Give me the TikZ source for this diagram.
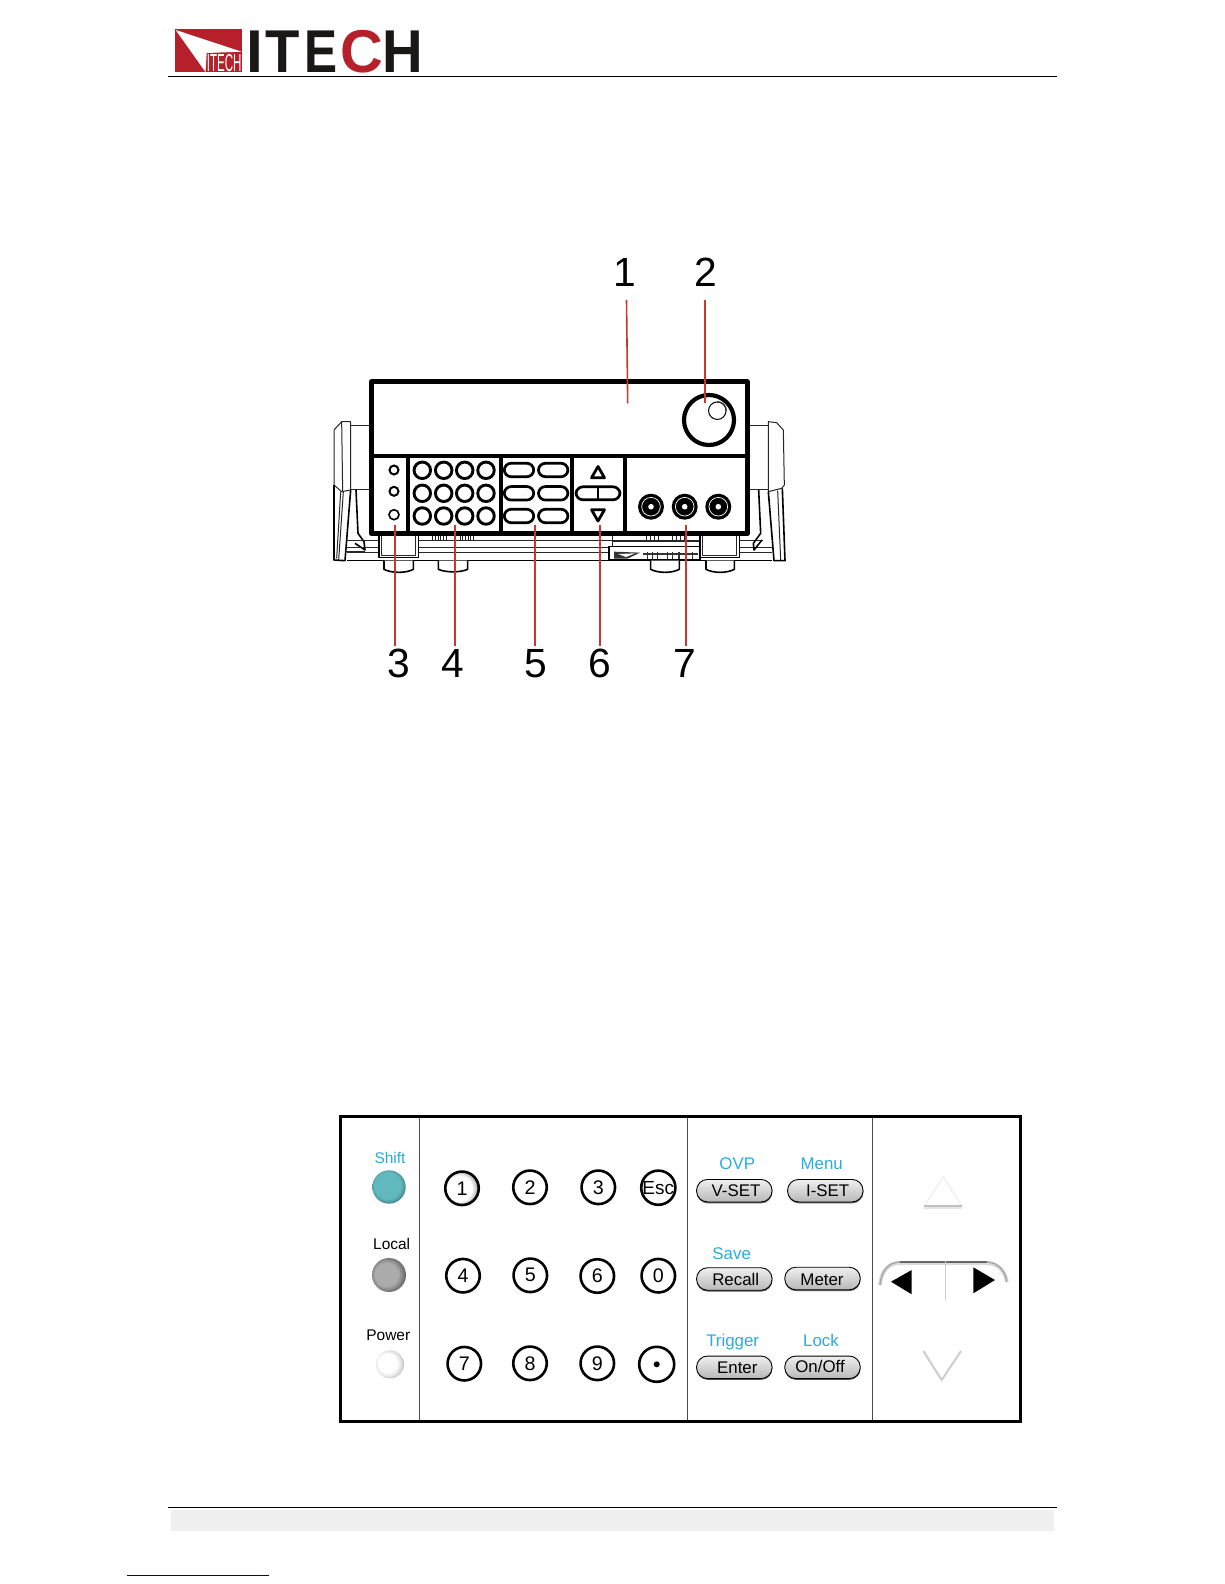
\documentclass[tikz,border=0pt]{standalone}
\usepackage{fontspec}
\setmainfont{Liberation Sans}
\usetikzlibrary{shadows}
\def\px{1.4226pt}
\newcommand{\fsz}[1]{\fontsize{#1}{#1}\selectfont}
\definecolor{logored}{HTML}{B5202A}
\definecolor{logoblack}{HTML}{1A1717}
\definecolor{callred}{HTML}{C8382E}
\definecolor{skyb}{HTML}{29ABE2}
\definecolor{foot}{HTML}{F0F0F0}
\pgfdeclareradialshading{shiftball}{\pgfpoint{-4bp}{4bp}}{rgb(0bp)=(0.38,0.72,0.74);rgb(20bp)=(0.38,0.72,0.74);rgb(30bp)=(0.22,0.45,0.47);rgb(50bp)=(0.22,0.45,0.47)}
\pgfdeclareradialshading{localball}{\pgfpoint{-6bp}{1.5bp}}{rgb(0bp)=(0.67,0.67,0.67);rgb(17bp)=(0.67,0.67,0.67);rgb(30bp)=(0.33,0.33,0.33);rgb(50bp)=(0.33,0.33,0.33)}
\pgfdeclareradialshading{powerball}{\pgfpoint{-7bp}{3bp}}{rgb(0bp)=(1,1,1);rgb(17bp)=(1,1,1);rgb(25bp)=(0.85,0.85,0.85);rgb(31bp)=(0.55,0.55,0.55);rgb(50bp)=(0.55,0.55,0.55)}
\pgfdeclareradialshading{oneball}{\pgfpoint{-7bp}{0bp}}{rgb(0bp)=(1,1,1);rgb(19bp)=(1,1,1);rgb(31bp)=(0.5,0.5,0.5);rgb(50bp)=(0.5,0.5,0.5)}
\tikzset{
  x=0.05cm,y=-0.05cm,
  every node/.style={inner sep=0pt,outer sep=0pt},
  biglet/.style={anchor=base,font=\bfseries\fsz{86}},
  callout/.style={font=\fsz{58}},
  redline/.style={draw=callred,line width=1.6*\px},
  box/.style={draw=black,line width=5*\px,line join=round},
  divider/.style={draw=black,line width=4.2*\px},
  sketch/.style={draw=black!85,line width=1*\px,line join=round},
  sketchb/.style={draw=black,line width=1.6*\px,line join=round},
  led/.style={circle,draw=black,line width=2*\px,fill=white},
  keyr/.style={circle,draw=black,line width=2.9*\px,minimum size=16.5*\px,fill=white},
  keyp/.style={rounded corners=7*\px,draw=black,line width=2.7*\px,fill=white,minimum width=29.5*\px,minimum height=13.5*\px},
  pname/.style={font=\fsz{22}},
  skyname/.style={font=\fsz{24},text=skyb},
  numkey/.style={circle,draw=black,line width=2.6*\px,minimum size=33.5*\px,font=\fsz{28}},
  softkey/.style={rounded corners=11*\px,draw=black,line width=0.9*\px,top color=white!94!black,bottom color=black!28,
    general shadow={shadow xshift=0.2*\px,shadow yshift=-1.3*\px,fill=black!65},minimum width=75.5*\px,minimum height=22.5*\px},
  keytext/.style={font=\fsz{24}},
  panelline/.style={draw=black!70,line width=1*\px},
}
\begin{document}
\begin{tikzpicture}
\useasboundingbox (0,0) rectangle (1224,1584);
% ---------- header
\fill[logored] (175,29) rectangle (242.3,72.3);
\fill[white] (175.7,30) -- (241.7,51.7) -- (206.7,53) -- (205.5,72) -- cycle;
\node[text=white,xscale=0.47,font=\fsz{35}] (lt) at (224.2,63) {ITECH};
\node[biglet,text=logoblack] (li) at (254.5,72.3) {I};
\node[biglet,text=logoblack,xscale=0.93] (lt2) at (282.5,72.3) {T};
\node[biglet,text=logoblack,xscale=0.82] (le) at (321,72.3) {E};
\node[biglet,text=logored,xscale=0.98] (lc) at (361.5,72.3) {C};
\node[biglet,text=logoblack,xscale=0.93] (lh) at (402.5,72.3) {H};
\draw[black,line width=1*\px] (168,76.3) -- (1057,76.3);
% ---------- footer
\fill[foot] (171,1510) rectangle (1054,1531);
\draw[black,line width=1*\px] (168,1507) -- (1057,1507);
\draw[blue!50!black,line width=1*\px] (127,1575.5) -- (269,1575.5);
% ---------- instrument: handles and base, left part
\begin{scope}[shift={(320,370)},scale=1/3]
  \draw[sketch] (92,155) -- (65,155) -- (42,180) -- (42,345) -- (65,365) -- (92,360) -- cycle;
  \draw[sketch] (65,155) -- (68,365);
  \draw[sketch] (92,165) -- (150,165) (92,358) -- (150,358);
  \draw[sketchb] (42,345) -- (42,570) -- (75,572) -- (92,360);
  \draw[sketch] (62,365) -- (50,565) (70,365) -- (56,570);
  \draw[sketchb] (108,360) -- (114,490) -- (132,515) -- (135,540) -- (105,520);
  \draw[sketch] (80,510) -- (720,510);
  \draw[sketch] (80,532) -- (720,532);
  \draw[sketch] (80,548) -- (720,548);
  \draw[sketchb] (80,572) -- (720,572);
  \draw[sketch] (75,545) -- (135,545);
  \draw[sketchb,fill=white] (177,495) -- (177,562) -- (295,562) -- (295,495);
  \draw[sketch] (185,495) -- (185,555) -- (287,555) -- (287,495);
  \draw[sketchb,fill=white] (192,572) -- (192,598) .. controls (215,610) and (258,610) .. (280,598) -- (280,572);
  \draw[sketchb,fill=white] (355,572) -- (355,598) .. controls (378,608) and (420,608) .. (443,598) -- (443,572);
  \foreach \t in {338,346,354,362,370,378,420,428,436,444,452,460}
    \draw[sketch] (\t,498) -- (\t,512);
\end{scope}
% ---------- instrument: right part
\begin{scope}[shift={(550,370)},scale=1/3]
  \draw[sketch] (0,510) -- (640,510) (0,532) -- (665,532) (0,548) -- (665,548);
  \draw[sketchb] (0,572) -- (665,572);
  \draw[sketchb,fill=white] (177,530) rectangle (450,570);
  \draw[sketch] (188,498) -- (188,530) (188,515) -- (448,515);
  \fill[black!80] (192,545) -- (270,548) -- (232,566) -- (192,566) -- cycle;
  \fill[white] (205,552) -- (255,550) -- (228,561) -- cycle;
  \foreach \t in {290,305,320,350,365,385,405,425}
    \fill[black!80] (\t,545) rectangle (\t+5,566);
  \draw[black!80,line width=1.4*\px] (280,552) -- (445,552);
  \foreach \t in {288,300,312,324,366,378,390,402}
    \draw[sketch] (\t,498) -- (\t,512);
  \draw[sketchb,fill=white] (450,495) -- (450,562) -- (568,562) -- (568,495);
  \draw[sketch] (458,495) -- (458,555) -- (560,555) -- (560,495);
  \draw[sketchb,fill=white] (468,572) -- (468,598) .. controls (490,610) and (531,610) .. (553,598) -- (553,572);
  \draw[sketchb,fill=white] (302,572) -- (302,598) .. controls (325,610) and (365,610) .. (388,598) -- (388,572);
  \draw[sketch] (655,155) -- (680,158) -- (700,180) -- (703,345) -- (695,355) -- (655,365) -- cycle;
  \draw[sketch] (600,165) -- (655,165) (600,358) -- (655,358);
  \draw[sketch] (655,155) -- (655,365);
  \draw[sketchb] (655,365) -- (672,572) -- (705,572) -- (697,355);
  \draw[sketch] (683,362) -- (692,570);
  \draw[sketchb] (626,360) -- (632,490) -- (610,520) -- (612,540) -- (636,510);
\end{scope}
% ---------- instrument body
\draw[box,fill=white] (371.5,381.7) rectangle (747,533.8);
\draw[divider] (371.5,456.3) -- (747,456.3);
\draw[divider] (408.3,456.3) -- (408.3,533.8);
\draw[divider] (501.3,456.3) -- (501.3,533.8);
\draw[divider] (571.7,456.3) -- (571.7,533.8);
\draw[divider] (625,456.3) -- (625,533.8);
\node[led,minimum size=9*\px] (led1) at (394,470) {};
\node[led,minimum size=9*\px] (led2) at (394,491.3) {};
\node[led,minimum size=10*\px,line width=1.6*\px] (led3) at (394,514.7) {};
\foreach \cx/\n in {422.3/a,443.7/b,464.7/c,486/d}
  \foreach \cy/\m in {470.3/x,493.3/y,516/z}
    \node[keyr] (r\n\m) at (\cx,\cy) {};
\foreach \cy/\m in {470/x,493.3/y,516/z}{
  \node[keyp] (pa\m) at (519,\cy) {};
  \node[keyp] (pb\m) at (553.2,\cy) {};
}
% arrows on the front panel
\draw[black,line width=2.8*\px,line join=round,fill=white] (598,466.5) -- (604.5,477.8) -- (591.5,477.8) -- cycle;
\draw[black,line width=2.8*\px,line join=round,fill=white] (598,521) -- (604.5,509.7) -- (591.5,509.7) -- cycle;
\node[keyp,minimum width=44*\px,minimum height=13*\px] (navp) at (598,493.3) {};
\draw[black,line width=2.2*\px] (navp.north) -- (navp.south);
% knob
\node[circle,draw=black,line width=4.2*\px,minimum size=50*\px,fill=white] (knob) at (709,420) {};
\node[circle,draw=black,line width=1*\px,minimum size=17.5*\px] (knobin) at (717.3,410.7) {};
\draw[black!80,line width=1.3*\px] (726.3,410.7) arc (0:-90:9);
% jacks
\foreach \cx/\n in {651/a,684.7/b,718.3/c}{
  \fill[black] (\cx,506.7) circle (13);
  \draw[white,line width=0.7*\px] (\cx,506.7) circle (9.3);
  \node[circle,fill=white,minimum size=5.6*\px] (jack\n) at (\cx,506.7) {};
}
% ---------- callouts
\node[callout] (n1) at (625,272.5) {1};
\node[callout] (n2) at (706,272.5) {2};
\node[callout] (n3) at (399,663.5) {3};
\node[callout] (n4) at (453,663.5) {4};
\node[callout] (n5) at (535.5,663.5) {5};
\node[callout] (n6) at (599.5,663.5) {6};
\node[callout] (n7) at (685,663.5) {7};
\coordinate (t1a) at (626.5,300); \coordinate (t1b) at (627.7,403.3);
\coordinate (t2a) at (705,300);   \coordinate (t2b) at (705,403);
\coordinate (t3a) at (395,524.7); \coordinate (t3b) at (395,646);
\coordinate (t4a) at (454.7,524.7); \coordinate (t4b) at (454.7,646);
\coordinate (t5a) at (535,524.7); \coordinate (t5b) at (535,646);
\coordinate (t6a) at (599.7,525); \coordinate (t6b) at (599.7,646);
\coordinate (t7a) at (685.7,525); \coordinate (t7b) at (685.7,646);
\draw[redline] (t1a) -- (t1b);
\draw[redline] (t2a) -- (t2b);
\draw[redline,line width=1.1*\px] (t3a) -- (t3b);
\draw[redline] (t4a) -- (t4b);
\draw[redline] (t5a) -- (t5b);
\draw[redline] (t6a) -- (t6b);
\draw[redline] (t7a) -- (t7b);
% ---------- lower panel
\draw[panelline] (419.7,1116.7) -- (419.7,1421);
\draw[panelline] (687.3,1116.7) -- (687.3,1421);
\draw[panelline] (872.3,1116.7) -- (872.3,1421);
\draw[black,line width=3*\px] (340,1116.7) rectangle (1020.3,1421);
\node[font=\fsz{22},text=skyb] (shiftl) at (390,1157.7) {Shift};
\node[pname] (locall) at (391.7,1244.3) {Local};
\node[pname] (powerl) at (388.3,1335) {Power};
\shade[shading=shiftball] (389,1187) circle (16.7);
\shade[shading=localball] (389,1275) circle (17);
\shade[shading=powerball] (390,1364.3) circle (14);
\shade[shading=oneball] (462,1188.3) circle (16.7);
\node[numkey] (k1) at (462,1188.3) {1};
\node[numkey] (k2) at (530,1187.3) {2};
\node[numkey] (k3) at (598.3,1187.3) {3};
\node[numkey,font=\fsz{27}] (kesc) at (658.3,1187.7) {Esc};
\node[numkey] (k4) at (463,1275.7) {4};
\node[numkey] (k5) at (530.3,1275.3) {5};
\node[numkey] (k6) at (597.3,1276) {6};
\node[numkey] (k0) at (658.3,1275.7) {0};
\node[numkey] (k7) at (464.3,1363.7) {7};
\node[numkey] (k8) at (530,1363.3) {8};
\node[numkey] (k9) at (597.3,1363.3) {9};
\node[numkey,minimum size=35*\px] (kdot) at (656.7,1364.3) {};
\fill[black] (kdot.center) circle (3);
% soft keys
\node[skyname] (lovp) at (737.3,1163.3) {OVP};
\node[skyname] (lmenu) at (821.7,1163.7) {Menu};
\node[skyname] (lsave) at (731.7,1253.7) {Save};
\node[skyname] (ltrig) at (732.7,1342) {Trigger};
\node[skyname] (llock) at (821,1340.3) {Lock};
\node[softkey] (kvset) at (734.3,1190.7) {};
\node[softkey] (kiset) at (825.3,1190.7) {};
\node[softkey] (krecall) at (734.3,1279) {};
\node[softkey] (kmeter) at (822.5,1278.5) {};
\node[softkey] (kenter) at (734.3,1367.3) {};
\node[softkey] (konoff) at (822.5,1367.3) {};
\node[keytext] (tvset) at (736,1190.7) {V-SET};
\node[keytext] (tiset) at (827.7,1190.7) {I-SET};
\node[keytext] (trecall) at (735.7,1279.3) {Recall};
\node[keytext] (tmeter) at (822,1279.3) {Meter};
\node[keytext] (tenter) at (737.3,1367.3) {Enter};
\node[keytext] (tonoff) at (820,1366.7) {On/Off};
% navigation arrows, faint
\draw[black!8,line width=1*\px] (924.3,1206) -- (943.3,1176.7) -- (961.7,1206);
\draw[black!10,line width=3*\px] (924.3,1207) -- (961.7,1207);
\draw[black!25,line width=1.3*\px] (924.3,1206) -- (961.7,1206);
\draw[black!12,line width=2.4*\px] (923.3,1351) -- (941.7,1380) -- (961,1351);
\draw[black!22,line width=1*\px] (923.3,1351) -- (941.7,1380) -- (961,1351);
\draw[black!14,line width=4*\px] (900,1263) -- (986.7,1263);
\draw[black!14,line width=4*\px] (900,1263) .. controls (888,1263) and (881,1272) .. (880,1285);
\draw[black!14,line width=4*\px] (986.7,1263) .. controls (998,1263) and (1006,1272) .. (1006.7,1282);
\draw[black!60,line width=1.6*\px] (900,1262) -- (986.7,1262);
\draw[black!35,line width=1.4*\px] (900,1262) .. controls (888,1262) and (881,1272) .. (880,1285);
\draw[black!35,line width=1.4*\px] (986.7,1262) .. controls (998,1262) and (1006,1272) .. (1006.7,1282);
\draw[black!20,line width=0.8*\px] (945,1261) -- (945,1300);
\fill[black] (891,1281.7) -- (911.7,1270) -- (911.7,1294.3) -- cycle;
\fill[black] (995,1280) -- (973.3,1267.3) -- (973.3,1293.3) -- cycle;
\end{tikzpicture}
\end{document}
